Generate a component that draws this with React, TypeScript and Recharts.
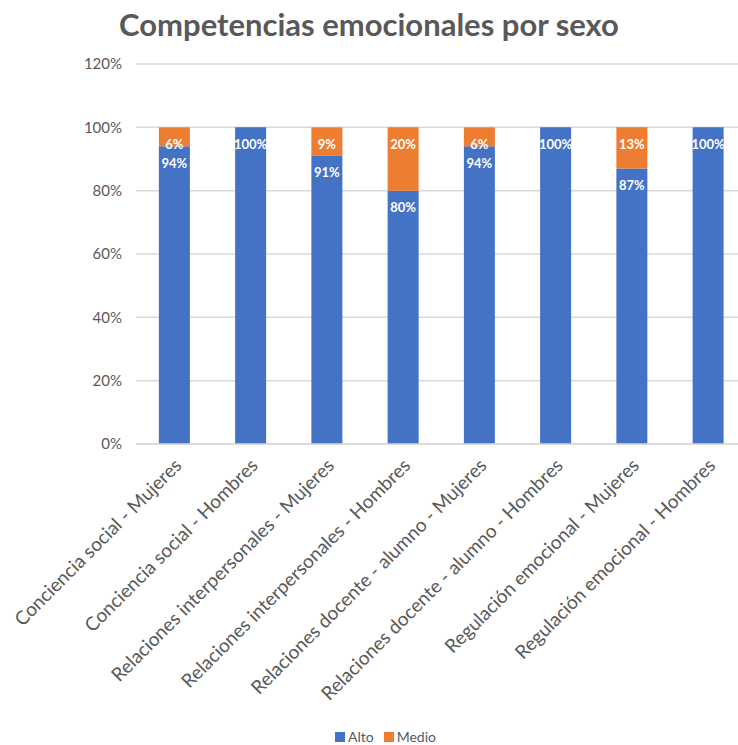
import React from "react";
import { BarChart, Bar, XAxis, YAxis, CartesianGrid, Legend, LabelList } from "recharts";

const categories = [
  "Conciencia social - Mujeres",
  "Conciencia social - Hombres",
  "Relaciones interpersonales - Mujeres",
  "Relaciones interpersonales - Hombres",
  "Relaciones docente - alumno - Mujeres",
  "Relaciones docente - alumno - Hombres",
  "Regulación emocional - Mujeres",
  "Regulación emocional - Hombres",
];
const alto = [94, 100, 91, 80, 94, 100, 87, 100];
const medio = [6, 0, 9, 20, 6, 0, 13, 0];
const yTicks = [0, 20, 40, 60, 80, 100, 120];
const seriesNames = ["Alto", "Medio"];
const seriesColors = ["#4472C4", "#ED7D31"];

const data = categories.map((c, i) => ({ name: c, Alto: alto[i], Medio: medio[i] }));

const FONT = "Lato, 'Open Sans', sans-serif";
const GRAY = "#595959";

const XTick = (props: any) => {
  const { x, y, payload } = props;
  return (
    <g transform={`translate(${x + 4},${y + 2})`}>
      <text
        transform="rotate(-45)"
        textAnchor="end"
        fill={GRAY}
        fontSize={19}
        fontFamily={FONT}
        dy="0.35em"
      >
        {payload.value}
      </text>
    </g>
  );
};

const fmtLabel = (v: any) => (v && v > 0 ? `${v}%` : "");

const LegendContent = () => (
  <div
    style={{
      display: "flex",
      justifyContent: "flex-start",
      alignItems: "center",
      paddingTop: 9,
      paddingLeft: 335,
      fontFamily: FONT,
      fontSize: 14,
      color: GRAY,
    }}
  >
    {seriesNames.map((n, i) => (
      <span key={n} style={{ display: "flex", alignItems: "center", marginRight: i === 0 ? 10 : 0 }}>
        <span
          style={{
            display: "inline-block",
            width: 10,
            height: 10,
            background: seriesColors[i],
            marginRight: 3,
          }}
        />
        {n}
      </span>
    ))}
  </div>
);

export default function App() {
  return (
    <div
      style={{
        position: "absolute",
        left: 0,
        top: 0,
        width: 738,
        height: 745,
        overflow: "hidden",
        background: "#fff",
        fontFamily: FONT,
      }}
    >
      <div
        style={{
          position: "absolute",
          left: 0,
          top: 5,
          width: 738,
          textAlign: "center",
          fontSize: 31,
          fontWeight: 700,
          color: GRAY,
          fontFamily: FONT,
        }}
      >
        Competencias emocionales por sexo
      </div>
      <BarChart
        width={760}
        height={745}
        data={data}
        margin={{ top: 64, right: 14, bottom: 0, left: 0 }}
        barCategoryGap="30%"
      >
        <CartesianGrid vertical={false} stroke="#D9D9D9" strokeWidth={1.5} />
        <XAxis
          dataKey="name"
          interval={0}
          height={275}
          tick={<XTick />}
          tickLine={false}
          axisLine={{ stroke: "#D9D9D9", strokeWidth: 1.5 }}
          tickMargin={10}
        />
        <YAxis
          width={136}
          domain={[0, 120]}
          ticks={yTicks}
          tickFormatter={(v: number) => `${v}%`}
          tickLine={false}
          axisLine={false}
          tickMargin={8}
          tick={{ fill: GRAY, fontSize: 15, fontFamily: FONT }}
        />
        <Legend verticalAlign="bottom" height={26} content={<LegendContent />} />
        <Bar dataKey="Alto" stackId="a" fill={seriesColors[0]} isAnimationActive={false}>
          <LabelList
            dataKey="Alto"
            position="insideTop"
            offset={12}
            formatter={fmtLabel}
            fill="#fff"
            fontSize={13}
            fontWeight={700}
            fontFamily={FONT}
          />
        </Bar>
        <Bar dataKey="Medio" stackId="a" fill={seriesColors[1]} isAnimationActive={false}>
          <LabelList
            dataKey="Medio"
            position="insideTop"
            offset={12}
            formatter={fmtLabel}
            fill="#fff"
            fontSize={13}
            fontWeight={700}
            fontFamily={FONT}
          />
        </Bar>
      </BarChart>
    </div>
  );
}
